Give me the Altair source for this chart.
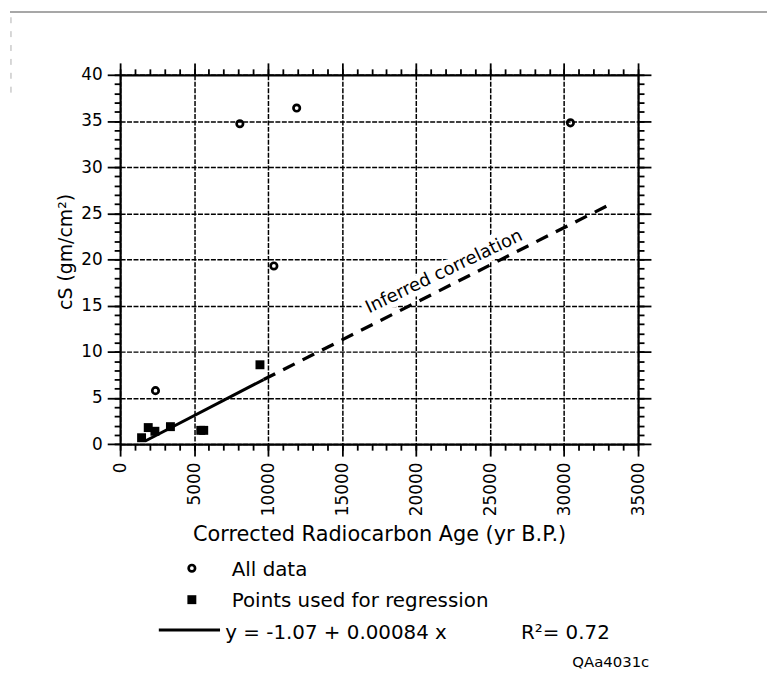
import altair as alt
import pandas as pd

# ---------------- data ----------------
all_age = [2390, 8090, 10390, 11930, 30430]
all_cs = [5.8, 34.7, 19.3, 36.4, 34.8]

reg_age = [1450, 1900, 2350, 3400, 5450, 5650, 9450]
reg_cs = [0.7, 1.8, 1.4, 1.9, 1.5, 1.5, 8.6]

fit_age = [1700, 9700]
fit_cs = [0.35, 7.0]

inferred_age = [9700, 32900]
inferred_cs = [7.0, 25.8]

note_age = [21900]
note_cs = [18.65]
note_text = ["Inferred correlation"]

x_major = list(range(0, 35001, 5000))
x_minor = list(range(0, 35001, 1000))
y_major = list(range(0, 41, 5))
y_minor = list(range(0, 41, 1))

legend_labels = ["All data", "Points used for regression", "y = -1.07 + 0.00084 x"]
r2_label = "R²= 0.72"
code_label = "QAa4031c"
x_title = "Corrected Radiocarbon Age (yr B.P.)"
y_title = "cS (gm/cm²)"

# ---------------- tables ----------------
df_all = pd.DataFrame({"age": all_age, "cs": all_cs})
df_reg = pd.DataFrame({"age": reg_age, "cs": reg_cs})
df_fit = pd.DataFrame({"age": fit_age, "cs": fit_cs})
df_inf = pd.DataFrame({"age": inferred_age, "cs": inferred_cs})
df_note = pd.DataFrame({"age": note_age, "cs": note_cs, "label": note_text})
one = pd.DataFrame({"k": [0]})

FONT = "DejaVu Sans"
W, H = 522, 372.3

xs = alt.Scale(domain=[0, 35000], nice=False, zero=False)
ys = alt.Scale(domain=[0, 40], nice=False, zero=False)

common = dict(domainColor="black", domainWidth=2.2, tickColor="black", tickWidth=1.8,
              labelColor="black", labelFont=FONT, titleFont=FONT, titleColor="black",
              titleFontWeight="normal")

grid_style = dict(grid=True, gridColor="black", gridDash=[5, 1.5], gridWidth=1.5)

ax_bottom = alt.Axis(orient="bottom", values=x_major, format="d", labelAngle=270,
                     labelAlign="right", labelBaseline="middle", labelFontSize=17,
                     labelPadding=6, labelOverlap=False, labelFlush=False, tickSize=12,
                     title=x_title, titleFontSize=21, titleY=97, titleBaseline="alphabetic",
                     **grid_style, **common)
ax_left = alt.Axis(orient="left", values=y_major, format="d", labelFontSize=17,
                   labelPadding=5, labelOverlap=False, labelFlush=False, tickSize=13,
                   title=y_title, titleFontSize=19, titleX=-55, titleY=178,
                   titleBaseline="middle", **grid_style, **common)
ax_bottom_minor = alt.Axis(orient="bottom", values=x_minor, labels=False, tickSize=6,
                           grid=False, domain=False, title=None, **common)
ax_left_minor = alt.Axis(orient="left", values=y_minor, labels=False, tickSize=6,
                         grid=False, domain=False, title=None, **common)
ax_top = alt.Axis(orient="top", values=x_major, labels=False, tickSize=12,
                  grid=False, title=None, **common)
ax_right = alt.Axis(orient="right", values=y_major, labels=False, tickSize=13,
                    grid=False, title=None, **common)
ax_top_minor = alt.Axis(orient="top", values=x_minor, labels=False, tickSize=6,
                        grid=False, domain=False, title=None, **common)
ax_right_minor = alt.Axis(orient="right", values=y_minor, labels=False, tickSize=6,
                          grid=False, domain=False, title=None, **common)

circles = alt.Chart(df_all).mark_point(
    shape="circle", filled=False, size=42, strokeWidth=2.7, color="black", opacity=1
).encode(
    x=alt.X("age:Q", scale=xs, axis=ax_bottom),
    y=alt.Y("cs:Q", scale=ys, axis=ax_left),
)

squares = alt.Chart(df_reg).mark_point(
    shape="square", filled=True, size=81, color="black", opacity=1
).encode(
    x=alt.X("age:Q", scale=xs, axis=ax_bottom_minor),
    y=alt.Y("cs:Q", scale=ys, axis=ax_left_minor),
)

fit = alt.Chart(df_fit).mark_line(color="black", strokeWidth=3).encode(
    x=alt.X("age:Q", scale=xs, axis=ax_top),
    y=alt.Y("cs:Q", scale=ys, axis=ax_right),
)

inferred = alt.Chart(df_inf).mark_line(
    color="black", strokeWidth=3.3, strokeDash=[13, 9]
).encode(
    x=alt.X("age:Q", scale=xs, axis=ax_top_minor),
    y=alt.Y("cs:Q", scale=ys, axis=ax_right_minor),
)

note_enc = dict(
    x=alt.X("age:Q", scale=xs, axis=None),
    y=alt.Y("cs:Q", scale=ys, axis=None),
    text="label:N",
)
note_halo = alt.Chart(df_note).mark_text(
    angle=334.4, fontSize=18, font=FONT, align="center", baseline="middle",
    fill="white", stroke="white", strokeWidth=11, strokeJoin="round"
).encode(**note_enc)
note = alt.Chart(df_note).mark_text(
    angle=334.4, fontSize=18, font=FONT, align="center", baseline="middle",
    color="black"
).encode(**note_enc)

# ---------------- legend (drawn below the plot) ----------------
def txt(label, x, y, size=20):
    return alt.Chart(one).mark_text(
        font=FONT, fontSize=size, align="left", baseline="alphabetic", color="black"
    ).encode(x=alt.value(x), y=alt.value(y), text=alt.value(label))

leg_circle = alt.Chart(one).mark_point(
    shape="circle", filled=False, size=42, strokeWidth=2.7, color="black", opacity=1
).encode(x=alt.value(72.3), y=alt.value(497.3))
leg_square = alt.Chart(one).mark_point(
    shape="square", filled=True, size=81, color="black", opacity=1
).encode(x=alt.value(72.3), y=alt.value(529))
leg_line = alt.Chart(one).mark_rule(color="black", strokeWidth=3).encode(
    x=alt.value(39), x2=alt.value(100.7), y=alt.value(559.6)
)
frame_top = alt.Chart(one).mark_rule(color="#8a8a8a", strokeWidth=1.5).encode(
    x=alt.value(-111), x2=alt.value(652), y=alt.value(-63.4)
)
frame_left = alt.Chart(one).mark_rule(color="#b0b0b0", strokeWidth=1, strokeDash=[6, 8]).encode(
    x=alt.value(-110), y=alt.value(-58), y2=alt.value(22)
)

chart = alt.layer(
    circles, squares, note_halo, fit, inferred, note,
    leg_circle, leg_square, leg_line,
    txt(legend_labels[0], 112.5, 505.6),
    txt(legend_labels[1], 112.5, 536.6),
    txt(legend_labels[2], 106, 569),
    txt(r2_label, 404, 569),
    txt(code_label, 455.7, 597.3, size=15),
    frame_top, frame_left,
).resolve_axis(
    x="independent", y="independent"
).properties(
    width=W, height=H,
    autosize=alt.AutoSizeParams(type="none"),
    padding={"left": 113, "top": 64.7, "right": 135, "bottom": 232},
).configure_view(stroke=None).configure(font=FONT)

chart.save("out.html", embed_options={"renderer": "svg", "actions": False})
